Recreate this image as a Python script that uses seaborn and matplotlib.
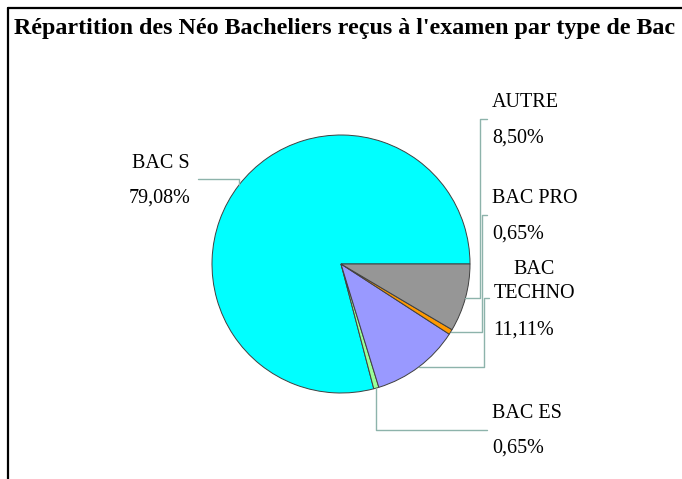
import numpy as np
import matplotlib
matplotlib.use("Agg")
import matplotlib.pyplot as plt
import seaborn as sns

# ---- data ----
categories = ["BAC S", "BAC ES", "BAC TECHNO", "BAC PRO", "AUTRE"]
values = [79.08, 0.65, 11.11, 0.65, 8.50]
value_labels = ["79,08%", "0,65%", "11,11%", "0,65%", "8,50%"]
colors = ["#00FFFF", "#99FF99", "#9999FF", "#FF9900", "#969696"]
title = "Répartition des Néo Bacheliers reçus à l'examen par type de Bac"

sns.set_theme(style="white")
plt.rcParams['font.family'] = ['Liberation Serif', 'DejaVu Serif']
plt.rcParams['text.color'] = 'black'

W, H = 682, 479
fig = plt.figure(figsize=(W / 100, H / 100), dpi=100)
ax = fig.add_axes([0, 0, 1, 1])

def Y(ypix):
    return H - ypix

cx, cy, R = 341, Y(264), 129
wedges, _ = ax.pie(values, colors=colors, startangle=0, counterclock=True,
                   center=(cx, cy), radius=R, frame=True,
                   wedgeprops=dict(edgecolor="#404040", linewidth=0.7))
ax.set_xlim(0, W)
ax.set_ylim(0, H)
ax.set_aspect('equal')
ax.axis('off')

def anchor(w):
    th = np.deg2rad((w.theta1 + w.theta2) / 2)
    return cx + R * np.cos(th), cy + R * np.sin(th)

lc = "#8db3ab"
lw = 1.0
fs = 14.5

# BAC S
x0, y0 = anchor(wedges[0])
ax.plot([x0, x0, 198], [y0, Y(179), Y(179)], color=lc, lw=lw)
ax.text(190, Y(168), categories[0], ha='right', va='baseline', fontsize=fs)
ax.text(190, Y(203), value_labels[0], ha='right', va='baseline', fontsize=fs)

# BAC ES
x0, y0 = anchor(wedges[1])
ax.plot([x0, x0, 487], [y0, Y(430), Y(430)], color=lc, lw=lw)
ax.text(492, Y(418), categories[1], ha='left', va='baseline', fontsize=fs)
ax.text(492, Y(453), value_labels[1], ha='left', va='baseline', fontsize=fs)

# BAC TECHNO
x0, y0 = anchor(wedges[2])
ax.plot([x0, 484, 484, 489], [y0, y0, Y(298), Y(298)], color=lc, lw=lw)
ax.text(534, Y(274), "BAC", ha='center', va='baseline', fontsize=fs)
ax.text(534, Y(298), "TECHNO", ha='center', va='baseline', fontsize=fs)
ax.text(493, Y(335), value_labels[2], ha='left', va='baseline', fontsize=fs)

# BAC PRO
x0, y0 = anchor(wedges[3])
ax.plot([x0, 482, 482, 487], [y0, y0, Y(215), Y(215)], color=lc, lw=lw)
ax.text(492, Y(203), categories[3], ha='left', va='baseline', fontsize=fs)
ax.text(492, Y(239), value_labels[3], ha='left', va='baseline', fontsize=fs)

# AUTRE
x0, y0 = anchor(wedges[4])
ax.plot([x0, 480, 480, 487], [y0, y0, Y(119), Y(119)], color=lc, lw=lw)
ax.text(492, Y(107), categories[4], ha='left', va='baseline', fontsize=fs)
ax.text(492, Y(143), value_labels[4], ha='left', va='baseline', fontsize=fs)

# title
ax.text(345, Y(34), title, ha='center', va='baseline', fontsize=17.3,
        fontweight='bold')

# frame lines (left and top)
ax.plot([8, 8], [Y(8), 0], color='black', lw=1.6, clip_on=False)
ax.plot([8, W], [Y(8), Y(8)], color='black', lw=1.6, clip_on=False)

fig.savefig("out.png", dpi=100)
